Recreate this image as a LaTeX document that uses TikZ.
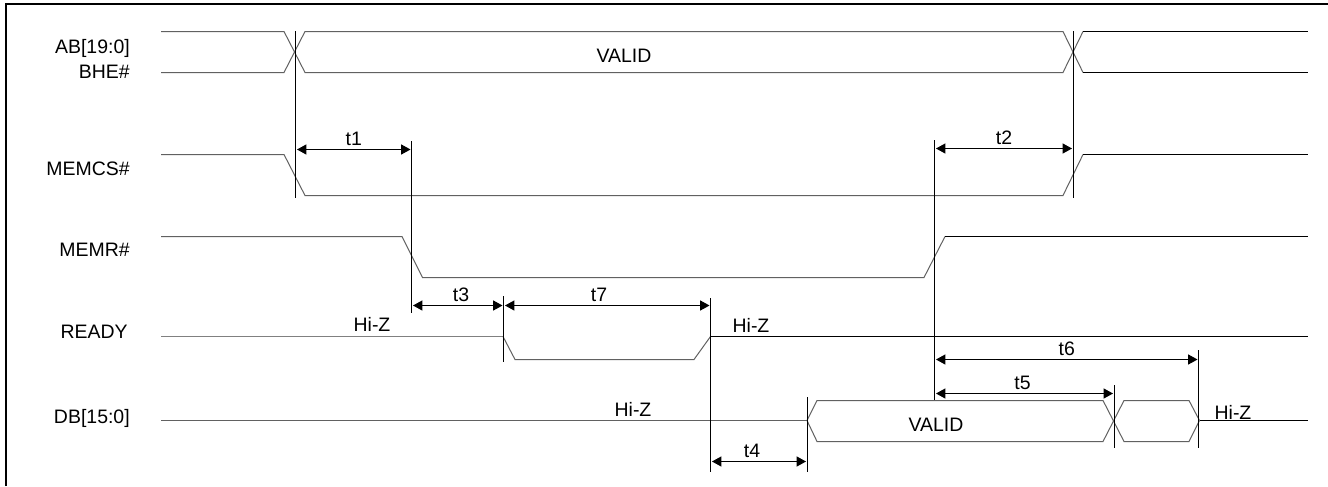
\documentclass[tikz,border=0pt]{standalone}
\usepackage{fontspec}
\setmainfont{Liberation Sans}
\usetikzlibrary{arrows.meta}

\begin{document}
\begin{tikzpicture}[
   x=0.75pt,y=-0.75pt,
   font=\fontsize{14.6}{16}\selectfont,
   frame/.style={line width=1.5pt},
   sig/.style={line width=0.75pt,black!62},
   sigend/.style={line width=0.75pt,black},
   tick/.style={line width=0.75pt,black},
   to/.style={{Triangle[length=7pt,width=7.5pt]}-{Triangle[length=7pt,width=7.5pt]},line width=0.75pt},
   tlabel/.style={auto,inner sep=2.2pt,text=black},
   siglabel/.style={anchor=east,inner sep=0pt},
   txt/.style={inner sep=0pt}]
\useasboundingbox (0,0) rectangle (1328,486);
\draw[frame] (6,486) -- (6,3.8) -- (1328,3.8);

\node[siglabel] (AB) at (130,48) {AB[19:0]};
\node[siglabel] (BHE) at (130,72) {BHE\#};
\node[siglabel] (MEMCS) at (130,168.5) {MEMCS\#};
\node[siglabel] (MEMR) at (130,249.5) {MEMR\#};
\node[siglabel] (READY) at (128,332) {READY};
\node[siglabel] (DB) at (130,418) {DB[15:0]};

% AB / BHE
\draw[sig] (161,31.5) -- (284,31.5) -- (305,72.5) -- (1063,72.5) -- (1083,31.5);
\draw[sig] (161,72.5) -- (284,72.5) -- (305,31.5) -- (1063,31.5) -- (1083,72.5);
\draw[sigend] (1083,31.5) -- (1308,31.5);
\draw[sigend] (1083,72.5) -- (1308,72.5);
\node[txt] (validA) at (624,55.5) {VALID};

% MEMCS
\draw[sig] (161,154.5) -- (284,154.5) -- (305,195.5) -- (1063,195.5) -- (1083,154.5);
\draw[sigend] (1083,154.5) -- (1308,154.5);

% MEMR
\draw[sig] (161,236.5) -- (402,236.5) -- (422.5,277.5) -- (924,277.5) -- (945,236.5);
\draw[sigend] (945,236.5) -- (1308,236.5);

% READY
\draw[sig,black!50] (161,336) -- (503,336);
\draw[sig] (503,336.5) -- (515,359.5) -- (694,359.5) -- (710.5,336.5);
\draw[sigend] (710.5,336.5) -- (1308,336.5);
\node[txt] (hizA) at (372,324) {Hi-Z};
\node[txt] (hizB) at (751,325) {Hi-Z};

% DB
\draw[sig] (161,420.5) -- (807,420.5);
\draw[sig] (807,420.5) -- (817,400.5) -- (1103,400.5) -- (1124,441.5) -- (1189,441.5) -- (1199.5,420.5);
\draw[sig] (807,420.5) -- (817,441.5) -- (1103,441.5) -- (1124,400.5) -- (1189,400.5) -- (1199.5,420.5);
\draw[sigend] (1199.5,420.5) -- (1308,420.5);
\node[txt] (hizC) at (633,409) {Hi-Z};
\node[txt] (hizD) at (1233,412) {Hi-Z};
\node[txt] (validB) at (936,424.5) {VALID};

% edges
\coordinate (e1a) at (295.5,31);    \coordinate (e1b) at (295.5,198);
\coordinate (e2a) at (1073.5,31);   \coordinate (e2b) at (1073.5,198);
\coordinate (e3a) at (411.5,141);   \coordinate (e3b) at (411.5,312.5);
\coordinate (e4a) at (934.5,140);   \coordinate (e4b) at (934.5,400);
\coordinate (e5a) at (503.5,296);   \coordinate (e5b) at (503.5,362);
\coordinate (e6a) at (710.5,298);   \coordinate (e6b) at (710.5,472);
\coordinate (e7a) at (807.5,397);   \coordinate (e7b) at (807.5,472);
\coordinate (e8a) at (1114.5,385);  \coordinate (e8b) at (1114.5,448);
\coordinate (e9a) at (1198.5,350);  \coordinate (e9b) at (1198.5,448);
\draw[tick] (e1a) -- (e1b);
\draw[tick] (e2a) -- (e2b);
\draw[tick] (e3a) -- (e3b);
\draw[tick] (e4a) -- (e4b);
\draw[tick] (e5a) -- (e5b);
\draw[tick] (e6a) -- (e6b);
\draw[tick] (e7a) -- (e7b);
\draw[tick] (e8a) -- (e8b);
\draw[tick] (e9a) -- (e9b);

% timings
\coordinate (t1l) at (297,149.5);   \coordinate (t1r) at (410.5,149.5);
\coordinate (t2l) at (936,148.5);   \coordinate (t2r) at (1072,148.5);
\coordinate (t3l) at (413,305.5);   \coordinate (t3r) at (502.5,305.5);
\coordinate (t7l) at (505,305.5);   \coordinate (t7r) at (709.5,305.5);
\coordinate (t4l) at (712,461.5);   \coordinate (t4r) at (806,461.5);
\coordinate (t5l) at (936,393.5);   \coordinate (t5r) at (1113,393.5);
\coordinate (t6l) at (936,359.5);   \coordinate (t6r) at (1197.5,359.5);
\draw[to] (t1l) to node[tlabel] {t1} (t1r);
\draw[to] (t2l) to node[tlabel] {t2} (t2r);
\draw[to] (t3l) to node[tlabel,pos=0.536] {t3} (t3r);
\draw[to] (t7l) to node[tlabel,pos=0.46] {t7} (t7r);
\draw[to] (t4l) to node[tlabel,pos=0.425] {t4} (t4r);
\draw[to] (t5l) to node[tlabel,pos=0.489] {t5} (t5r);
\draw[to] (t6l) to node[tlabel] {t6} (t6r);
\end{tikzpicture}
\end{document}
